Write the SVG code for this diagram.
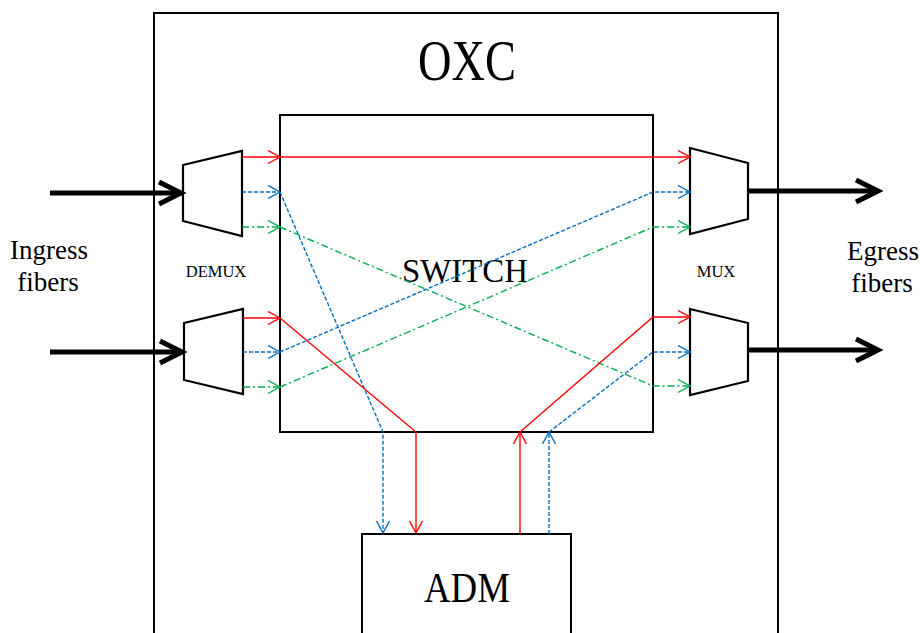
<svg xmlns="http://www.w3.org/2000/svg" width="920" height="633" viewBox="0 0 920 633">
<style>
.box{fill:#fff;stroke:#000;stroke-width:2}
.trap{fill:#fff;stroke:#000;stroke-width:2.2;stroke-linejoin:miter}
.thick{fill:none;stroke:#000;stroke-width:5}
.red{fill:none;stroke:#FF0000;stroke-width:1.4}
.blue{fill:none;stroke:#0070C0;stroke-width:1.4;stroke-dasharray:4 2}
.green{fill:none;stroke:#00B050;stroke-width:1.4;stroke-dasharray:7 3 2 3}
text{font-family:"Liberation Serif","Times New Roman",serif;fill:#000}
</style>
<defs>
<marker id="ar" viewBox="0 0 14 15" refX="12.5" refY="7.5" markerWidth="14" markerHeight="15" markerUnits="userSpaceOnUse" orient="auto"><path d="M0.5,1 L12.5,7.5 L0.5,14" fill="none" stroke="#FF0000" stroke-width="1.4"/></marker>
<marker id="ab" viewBox="0 0 14 15" refX="12.5" refY="7.5" markerWidth="14" markerHeight="15" markerUnits="userSpaceOnUse" orient="auto"><path d="M0.5,1 L12.5,7.5 L0.5,14" fill="none" stroke="#0070C0" stroke-width="1.4"/></marker>
<marker id="ag" viewBox="0 0 14 15" refX="12.5" refY="7.5" markerWidth="14" markerHeight="15" markerUnits="userSpaceOnUse" orient="auto"><path d="M0.5,1 L12.5,7.5 L0.5,14" fill="none" stroke="#00B050" stroke-width="1.4"/></marker>
</defs>
<rect width="920" height="633" fill="#fff"/>
<g id="oxc">
<rect class="box" x="154" y="13" width="624" height="650"/>
<text x="467" y="80" font-size="56" text-anchor="middle" textLength="98" lengthAdjust="spacingAndGlyphs">OXC</text>
</g>
<g id="switch">
<rect class="box" x="280" y="115" width="373" height="317"/>
<text x="465" y="282" font-size="33" text-anchor="middle" textLength="126" lengthAdjust="spacingAndGlyphs">SWITCH</text>
</g>
<g id="adm">
<rect class="box" x="362" y="534" width="209" height="120"/>
<text x="467" y="602" font-size="42" text-anchor="middle" textLength="86" lengthAdjust="spacingAndGlyphs">ADM</text>
</g>
<g id="demux1"><polygon class="trap" points="183,165 242,151 242,236 183,221"/></g>
<g id="demux2"><polygon class="trap" points="184,323 243,309 243,394 184,380"/></g>
<g id="mux1"><polygon class="trap" points="690,148 748,163 748,219 690,234"/></g>
<g id="mux2"><polygon class="trap" points="690,309 748,323 748,381 690,395"/></g>
<g id="labels">
<text x="216" y="277" font-size="16.5" text-anchor="middle">DEMUX</text>
<text x="716" y="277" font-size="16.5" text-anchor="middle">MUX</text>
<text x="49" y="259" font-size="27" text-anchor="middle">Ingress</text>
<text x="48" y="291" font-size="27" text-anchor="middle">fibers</text>
<text x="883" y="260" font-size="27" text-anchor="middle">Egress</text>
<text x="882" y="292" font-size="27" text-anchor="middle">fibers</text>
</g>
<g id="connectors">
<line class="thick" x1="50" y1="193" x2="180" y2="193"/>
<polyline class="thick" points="159,182 181,193 159,204"/>
<line class="thick" x1="50" y1="352" x2="181" y2="352"/>
<polyline class="thick" points="160,341 182,352 160,363"/>
<line class="thick" x1="748" y1="191" x2="877" y2="191"/>
<polyline class="thick" points="856,180 878,191 856,202"/>
<line class="thick" x1="748" y1="350" x2="877" y2="350"/>
<polyline class="thick" points="856,339 878,350 856,361"/>
<line class="red" x1="242" y1="157" x2="280" y2="157" marker-end="url(#ar)"/>
<line class="blue" x1="242" y1="192" x2="280" y2="192" marker-end="url(#ab)"/>
<line class="green" x1="242" y1="227" x2="280" y2="227" marker-end="url(#ag)"/>
<line class="red" x1="243" y1="318" x2="280" y2="318" marker-end="url(#ar)"/>
<line class="blue" x1="243" y1="352" x2="280" y2="352" marker-end="url(#ab)"/>
<line class="green" x1="243" y1="387" x2="280" y2="387" marker-end="url(#ag)"/>
<line class="red" x1="280" y1="157" x2="690" y2="157" marker-end="url(#ar)"/>
<polyline class="blue" points="280,192 383,432 383,533" marker-end="url(#ab)"/>
<polyline class="green" points="280,227 653,386 690,386" marker-end="url(#ag)"/>
<polyline class="red" points="280,318 416,432 416,533" marker-end="url(#ar)"/>
<polyline class="blue" points="280,352 653,192 690,192" marker-end="url(#ab)"/>
<polyline class="green" points="280,387 653,227 690,227" marker-end="url(#ag)"/>
<line class="red" x1="520" y1="534" x2="520" y2="432" marker-end="url(#ar)"/>
<line class="blue" x1="549" y1="534" x2="549" y2="432" marker-end="url(#ab)"/>
<polyline class="red" points="520,432 653,317 690,317" marker-end="url(#ar)"/>
<polyline class="blue" points="549,432 653,352 690,352" marker-end="url(#ab)"/>
</g>
</svg>
